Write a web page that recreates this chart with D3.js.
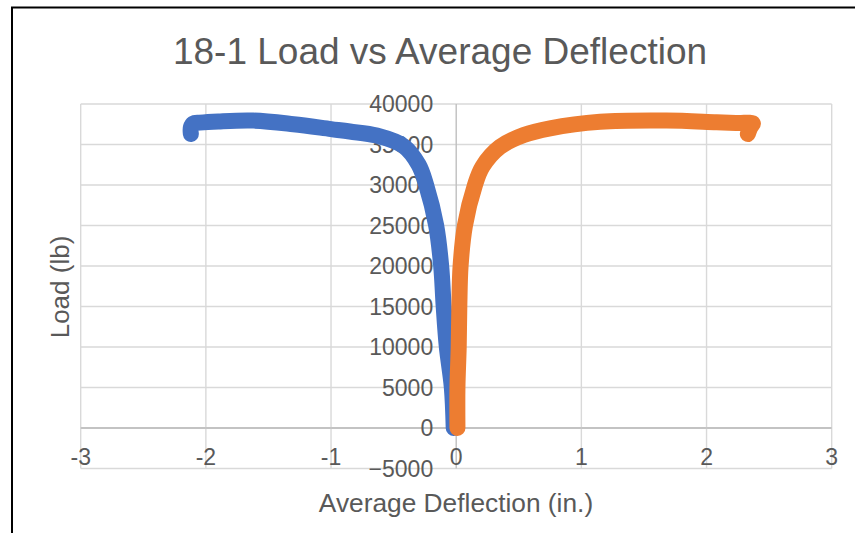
<!DOCTYPE html>
<html>
<head>
<meta charset="utf-8">
<script src="https://cdn.jsdelivr.net/npm/d3@7"></script>
<style>
  html, body { margin: 0; padding: 0; background: #fff; }
  svg { display: block; font-family: "Liberation Sans", Arial, sans-serif; }
</style>
</head>
<body>
<svg id="chart" width="855" height="533"></svg>
<script>
// ---- data ----
const titleText = "18-1 Load vs Average Deflection";
const xTitle = "Average Deflection (in.)";
const yTitle = "Load (lb)";
const xTicks = [-3, -2, -1, 0, 1, 2, 3];
const yTicks = [-5000, 0, 5000, 10000, 15000, 20000, 25000, 30000, 35000, 40000];

const blueX = [-0.02, -0.035, -0.075, -0.10, -0.12, -0.16, -0.24, -0.30, -0.42, -0.635, -0.85, -1.0, -1.3, -1.62, -1.9, -2.05, -2.10, -2.12, -2.12];
const blueY = [0, 5000, 10000, 15000, 20000, 25000, 30000, 32500, 34800, 36100, 36600, 36900, 37500, 37950, 37850, 37700, 37600, 37100, 36300];

const orangeX = [0.01, 0.01, 0.02, 0.025, 0.035, 0.07, 0.15, 0.21, 0.35, 0.54, 0.75, 1.15, 1.68, 2.08, 2.25, 2.37, 2.35, 2.33];
const orangeY = [0, 5000, 10000, 15000, 20000, 25000, 30000, 32270, 34700, 36170, 37000, 37800, 37950, 37740, 37650, 37600, 37100, 36300];

// ---- layout ----
const svg = d3.select("#chart");
const plot = { left: 80.7, right: 831.7, top: 104, bottom: 468.5 };
const x = d3.scaleLinear().domain([-3, 3]).range([plot.left, plot.right]);
const y = d3.scaleLinear().domain([-5000, 40000]).range([plot.bottom, plot.top]);
const textColor = "#595959";

// border
svg.append("path")
  .attr("d", `M12,540 L12,7.5 L860,7.5`)
  .attr("fill", "none").attr("stroke", "#000").attr("stroke-width", 2);

// title
svg.append("text")
  .attr("x", 440).attr("y", 64)
  .attr("text-anchor", "middle")
  .attr("font-size", 37).attr("fill", textColor)
  .text(titleText);

// gridlines
const g = svg.append("g");
g.selectAll(".hg").data(yTicks).join("line")
  .attr("x1", plot.left).attr("x2", plot.right)
  .attr("y1", d => y(d)).attr("y2", d => y(d))
  .attr("stroke", d => d === 0 ? "#bfbfbf" : "#d9d9d9").attr("stroke-width", 1.4);
g.selectAll(".vg").data(xTicks).join("line")
  .attr("y1", plot.top).attr("y2", plot.bottom)
  .attr("x1", d => x(d)).attr("x2", d => x(d))
  .attr("stroke", d => d === 0 ? "#bfbfbf" : "#d9d9d9").attr("stroke-width", 1.4);
g.append("line")
  .attr("x1", plot.left).attr("x2", plot.right)
  .attr("y1", y(0)).attr("y2", y(0))
  .attr("stroke", "#bfbfbf").attr("stroke-width", 1.4);

// axis labels
svg.append("g").selectAll("text").data(yTicks).join("text")
  .attr("x", x(0) - 23).attr("y", d => y(d))
  .attr("dy", "0.36em")
  .attr("text-anchor", "end")
  .attr("font-size", 23).attr("fill", textColor)
  .text(d => d3.format("d")(d));
svg.append("g").selectAll("text").data(xTicks).join("text")
  .attr("x", d => x(d)).attr("y", 465)
  .attr("text-anchor", "middle")
  .attr("font-size", 23).attr("fill", textColor)
  .text(d => d);

// axis titles
svg.append("text")
  .attr("x", 456).attr("y", 512)
  .attr("text-anchor", "middle")
  .attr("font-size", 26.3).attr("fill", textColor)
  .text(xTitle);
svg.append("text")
  .attr("transform", "translate(69,287) rotate(-90)")
  .attr("text-anchor", "middle")
  .attr("font-size", 26).attr("fill", textColor)
  .text(yTitle);

// series
const line = d3.line().x(d => x(d[0])).y(d => y(d[1])).curve(d3.curveCatmullRom.alpha(0.5));
const series = [
  { xs: blueX, ys: blueY, color: "#4472C4" },
  { xs: orangeX, ys: orangeY, color: "#ED7D31" }
];
series.forEach(s => {
  const pts = s.xs.map((v, i) => [v, s.ys[i]]);
  svg.append("path")
    .attr("d", line(pts))
    .attr("fill", "none")
    .attr("stroke", s.color)
    .attr("stroke-width", 16)
    .attr("stroke-linecap", "round")
    .attr("stroke-linejoin", "round");
});
</script>
</body>
</html>
